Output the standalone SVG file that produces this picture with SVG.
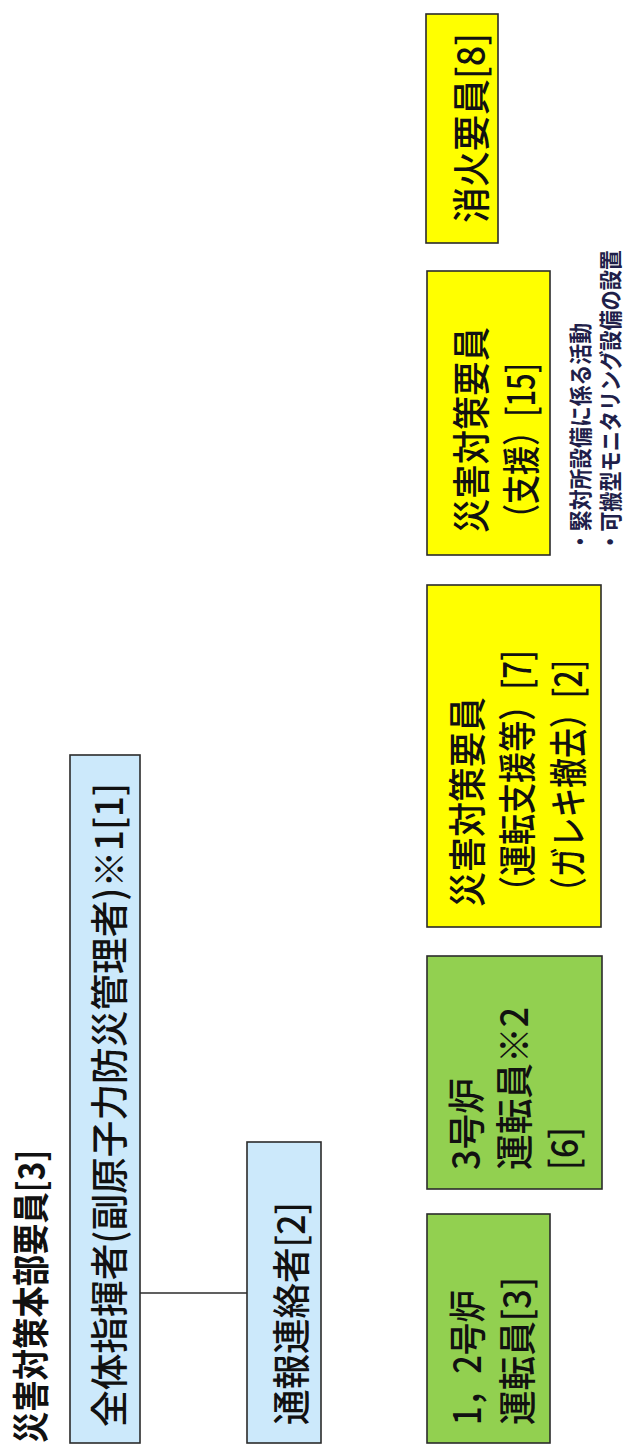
<svg xmlns="http://www.w3.org/2000/svg" width="624" height="1445" viewBox="0 0 624 1445">
<style>
.box{stroke:#2b2b2b;stroke-width:1.6}
.blue{fill:#cce9fb}
.green{fill:#92d050}
.yellow{fill:#ffff00}
text{font-family:"Noto Sans CJK JP","Noto Sans CJK SC",sans-serif;fill:#111}
.t{font-size:38px;font-weight:500}
.h{font-size:37px;font-weight:700}
.n{font-size:23px;font-weight:700;fill:#1f1f4a}
</style>
<rect width="624" height="1445" fill="#ffffff"/>
<g id="title">
<text class="h" transform="translate(45,1443) rotate(-90)" textLength="293" lengthAdjust="spacingAndGlyphs">災害対策本部要員[3]</text>
</g>
<g id="connectors">
<line x1="140" y1="1293" x2="247" y2="1293" stroke="#2b2b2b" stroke-width="1.6"/>
</g>
<g id="node-commander">
<rect class="box blue" x="70" y="755" width="70" height="688"/>
<text class="t" transform="translate(123,1427) rotate(-90)" textLength="644" lengthAdjust="spacingAndGlyphs">全体指揮者(副原子力防災管理者)※1[1]</text>
</g>
<g id="node-liaison">
<rect class="box blue" x="247" y="1142" width="74" height="301"/>
<text class="t" transform="translate(305,1425) rotate(-90)" textLength="223" lengthAdjust="spacingAndGlyphs">通報連絡者[2]</text>
</g>
<g id="node-op12">
<rect class="box green" x="427" y="1214" width="123" height="229"/>
<text class="t" transform="translate(481,1425) rotate(-90)" textLength="135" lengthAdjust="spacingAndGlyphs">1，2号炉</text>
<text class="t" transform="translate(531,1425) rotate(-90)" textLength="148" lengthAdjust="spacingAndGlyphs">運転員[3]</text>
</g>
<g id="node-op3">
<rect class="box green" x="427" y="956" width="175" height="233"/>
<text class="t" transform="translate(480,1170) rotate(-90)" textLength="92" lengthAdjust="spacingAndGlyphs">3号炉</text>
<text class="t" transform="translate(528,1170) rotate(-90)" textLength="163" lengthAdjust="spacingAndGlyphs">運転員※2</text>
<text class="t" transform="translate(578,1170) rotate(-90)" textLength="43" lengthAdjust="spacingAndGlyphs">[6]</text>
</g>
<g id="node-disaster1">
<rect class="box yellow" x="427" y="585" width="174" height="342"/>
<text class="t" transform="translate(481,907) rotate(-90)" textLength="210" lengthAdjust="spacingAndGlyphs">災害対策要員</text>
<text class="t" transform="translate(531,907) rotate(-90)" textLength="257" lengthAdjust="spacingAndGlyphs">（運転支援等）[7]</text>
<text class="t" transform="translate(582,907) rotate(-90)" textLength="247" lengthAdjust="spacingAndGlyphs">（ガレキ撤去）[2]</text>
</g>
<g id="node-disaster2">
<rect class="box yellow" x="427" y="271" width="123" height="284"/>
<text class="t" transform="translate(485,533) rotate(-90)" textLength="206" lengthAdjust="spacingAndGlyphs">災害対策要員</text>
<text class="t" transform="translate(535,533) rotate(-90)" textLength="170" lengthAdjust="spacingAndGlyphs">（支援）[15]</text>
</g>
<g id="node-fire">
<rect class="box yellow" x="426" y="14" width="72" height="229"/>
<text class="t" transform="translate(485,223) rotate(-90)" textLength="190" lengthAdjust="spacingAndGlyphs">消火要員[8]</text>
</g>
<g id="notes">
<text class="n" transform="translate(589,552) rotate(-90)" textLength="229" lengthAdjust="spacingAndGlyphs">・緊対所設備に係る活動</text>
<text class="n" transform="translate(619,552) rotate(-90)" textLength="302" lengthAdjust="spacingAndGlyphs">・可搬型モニタリング設備の設置</text>
</g>
</svg>
